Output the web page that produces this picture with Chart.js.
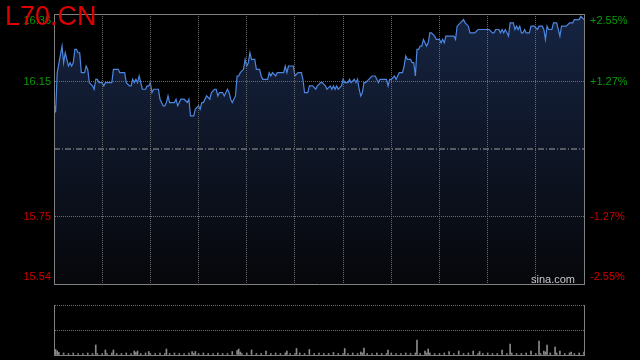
<!DOCTYPE html>
<html>
<head>
<meta charset="utf-8">
<title>L70.CN</title>
<script src="https://cdn.jsdelivr.net/npm/chart.js@4.4.1/dist/chart.umd.min.js"></script>
<style>
  html, body { margin: 0; padding: 0; background: #000; }
  #wrap { position: relative; width: 640px; height: 360px; overflow: hidden; background: #000; font-family: 'Liberation Sans', Arial, sans-serif; }
  canvas { position: absolute; left: 0; }
  #price { top: 0; }
  #volume { top: 295px; }
  .title { position: absolute; left: 5px; top: 3px; font-size: 27px; line-height: 27px; color: #e00000; white-space: nowrap; }
  .brand { position: absolute; left: 531px; top: 274px; font-size: 11px; line-height: 11px; color: #c8c8c8; }
</style>
</head>
<body>
<div id="wrap">
  <canvas id="price" width="640" height="295"></canvas>
  <canvas id="volume" width="640" height="65"></canvas>
  <div class="title">L70.CN</div>
  <div class="brand">sina.com</div>
</div>
<script>
// session in minutes, gridline every 30 min
const sessionEnd = 330;
const prevClose = 15.95;
const tickPct = [-2.55, -1.275, 1.275, 2.55];
const priceLabels = ['15.54', '15.75', '16.15', '16.36'];
const pctLabels = ['-2.55%', '-1.27%', '+1.27%', '+2.55%'];

const times = [
  0, 1, 2, 5, 6, 7, 9, 10, 11, 12,
  13, 14, 15, 16, 17, 19, 20, 21, 22, 24,
  25, 26, 27, 28, 30, 31, 32, 36, 37, 40,
  41, 44, 45, 47, 48, 49, 50, 51, 52, 53,
  54, 55, 57, 58, 59, 60, 61, 62, 65, 66,
  68, 69, 70, 71, 72, 74, 75, 76, 77, 78,
  79, 81, 83, 84, 85, 87, 88, 90, 91, 92,
  93, 95, 97, 98, 100, 101, 102, 103, 105, 106,
  108, 109, 110, 111, 113, 114, 115, 116, 118, 119,
  120, 121, 122, 123, 125, 126, 128, 129, 130, 133,
  134, 135, 136, 138, 139, 143, 144, 145, 146, 149,
  150, 152, 154, 155, 156, 158, 159, 161, 163, 164,
  166, 167, 169, 170, 172, 173, 174, 175, 176, 177,
  179, 180, 181, 183, 184, 185, 187, 188, 189, 190,
  191, 192, 193, 194, 196, 198, 200, 201, 202, 203,
  207, 208, 209, 210, 212, 213, 214, 215, 217, 218,
  219, 220, 222, 223, 224, 225, 226, 227, 228, 229,
  230, 232, 233, 234, 235, 237, 238, 240, 241, 242,
  243, 244, 246, 249, 250, 251, 253, 255, 256, 258,
  259, 261, 262, 264, 269, 271, 273, 274, 275, 277,
  278, 279, 280, 281, 282, 283, 284, 286, 287, 288,
  289, 290, 291, 292, 293, 294, 296, 297, 299, 301,
  302, 304, 305, 306, 307, 308, 310, 311, 313, 314,
  315, 316, 319, 321, 323, 324, 327, 328, 330
];
const prices = [
  16.09, 16.06, 16.18, 16.26, 16.21, 16.24, 16.20, 16.21, 16.20, 16.21,
  16.25, 16.25, 16.24, 16.24, 16.18, 16.18, 16.20, 16.19, 16.15, 16.14,
  16.13, 16.16, 16.16, 16.15, 16.15, 16.14, 16.15, 16.15, 16.19, 16.19,
  16.18, 16.18, 16.15, 16.14, 16.14, 16.16, 16.15, 16.16, 16.15, 16.17,
  16.15, 16.13, 16.13, 16.14, 16.14, 16.15, 16.12, 16.13, 16.13, 16.10,
  16.08, 16.08, 16.09, 16.11, 16.09, 16.09, 16.09, 16.10, 16.08, 16.09,
  16.10, 16.10, 16.09, 16.10, 16.05, 16.05, 16.07, 16.08, 16.07, 16.09,
  16.09, 16.11, 16.10, 16.12, 16.13, 16.13, 16.11, 16.12, 16.12, 16.11,
  16.13, 16.12, 16.10, 16.09, 16.11, 16.17, 16.17, 16.18, 16.19, 16.22,
  16.20, 16.21, 16.24, 16.22, 16.22, 16.19, 16.19, 16.17, 16.16, 16.16,
  16.18, 16.17, 16.18, 16.17, 16.18, 16.18, 16.20, 16.18, 16.20, 16.20,
  16.17, 16.18, 16.18, 16.16, 16.12, 16.12, 16.14, 16.14, 16.13, 16.14,
  16.15, 16.15, 16.14, 16.13, 16.14, 16.13, 16.14, 16.13, 16.14, 16.13,
  16.14, 16.16, 16.15, 16.15, 16.16, 16.15, 16.16, 16.15, 16.16, 16.13,
  16.11, 16.12, 16.15, 16.15, 16.16, 16.17, 16.17, 16.16, 16.15, 16.16,
  16.16, 16.14, 16.16, 16.16, 16.17, 16.16, 16.17, 16.18, 16.18, 16.20,
  16.23, 16.22, 16.22, 16.21, 16.21, 16.17, 16.25, 16.25, 16.26, 16.26,
  16.28, 16.26, 16.27, 16.30, 16.30, 16.29, 16.28, 16.28, 16.27, 16.28,
  16.27, 16.29, 16.29, 16.29, 16.28, 16.32, 16.33, 16.34, 16.33, 16.32,
  16.30, 16.30, 16.30, 16.31, 16.31, 16.31, 16.30, 16.30, 16.31, 16.31,
  16.30, 16.31, 16.30, 16.31, 16.30, 16.29, 16.33, 16.33, 16.31, 16.32,
  16.31, 16.32, 16.30, 16.30, 16.31, 16.30, 16.30, 16.32, 16.32, 16.31,
  16.32, 16.32, 16.31, 16.28, 16.32, 16.31, 16.31, 16.33, 16.33, 16.31,
  16.29, 16.32, 16.32, 16.33, 16.33, 16.34, 16.34, 16.35, 16.34
];

const volTimes = [
  0, 1, 2, 3, 6, 9, 12, 15, 18, 21, 24, 26, 27, 30, 32, 33, 36, 37, 39, 42,
  45, 48, 50, 51, 52, 54, 57, 59, 60, 63, 66, 69, 70, 72, 75, 78, 81, 84, 86, 87,
  88, 90, 93, 96, 99, 102, 105, 108, 111, 114, 115, 116, 117, 120, 123, 126, 129, 132, 135, 138,
  141, 144, 145, 147, 150, 151, 153, 156, 159, 162, 165, 168, 171, 174, 177, 180, 181, 183, 186, 189,
  191, 192, 193, 195, 198, 201, 204, 207, 208, 210, 213, 216, 219, 222, 225, 226, 228, 231, 232, 233,
  234, 237, 240, 243, 246, 249, 252, 255, 258, 261, 264, 265, 267, 270, 273, 276, 279, 282, 284, 285,
  288, 291, 294, 297, 300, 302, 303, 305, 306, 307, 309, 312, 313, 315, 318, 321, 322, 324, 327, 330
];
const volumes = [
  4, 11, 8, 5, 4, 3, 4, 3, 3, 4, 3, 20, 3, 3, 10, 3, 4, 10, 3, 3,
  4, 3, 8, 5, 8, 3, 4, 7, 3, 3, 4, 3, 12, 3, 4, 3, 3, 4, 7, 3,
  7, 3, 4, 3, 3, 4, 3, 3, 7, 9, 12, 6, 3, 4, 10, 3, 3, 8, 3, 4,
  3, 4, 8, 3, 3, 13, 4, 3, 11, 3, 4, 3, 3, 5, 3, 3, 13, 3, 4, 3,
  6, 4, 14, 3, 3, 4, 3, 3, 10, 4, 3, 3, 4, 3, 4, 30, 3, 8, 4, 12,
  4, 3, 3, 4, 7, 3, 8, 3, 4, 8, 3, 7, 3, 4, 3, 3, 10, 3, 22, 4,
  3, 3, 4, 8, 3, 28, 3, 8, 6, 20, 4, 16, 4, 8, 3, 4, 6, 3, 4, 6
];

const frameColor = '#808080';
const dotColor = '#6c6c6c';
const upColor = '#0a9a0a';
const downColor = '#d00000';

Chart.defaults.font.family = "'Liberation Sans', Arial, sans-serif";
Chart.defaults.font.size = 11;

const yMin = prevClose * (1 + tickPct[0] / 100);
const yMax = prevClose * (1 + tickPct[tickPct.length - 1] / 100);

function setTicks(scale) {
  scale.ticks = tickPct.map(p => ({ value: prevClose * (1 + p / 100) }));
}

// top label sits under the frame line, bottom label above it
function edgeLabel(text, index) {
  if (index === tickPct.length - 1) return ['', text];
  if (index === 0) return [text, ''];
  return text;
}

function fixWidth(w) {
  return scale => {
    scale.width = w;
    scale.paddingTop = 0;
    scale.paddingBottom = 0;
  };
}

function fixHeight(scale) {
  scale.height = 0;
  scale.paddingLeft = 0;
  scale.paddingRight = 0;
}

function areaFill(context) {
  const { ctx, chartArea } = context.chart;
  if (!chartArea) return '#101a2e';
  const g = ctx.createLinearGradient(0, chartArea.top, 0, chartArea.bottom);
  g.addColorStop(0, '#162442');
  g.addColorStop(1, '#06070a');
  return g;
}

new Chart(document.getElementById('price').getContext('2d'), {
  type: 'line',
  data: {
    datasets: [
      {
        label: 'prevClose',
        data: [{ x: 0, y: prevClose }, { x: sessionEnd, y: prevClose }],
        borderColor: '#a0a0a0',
        borderWidth: 1,
        borderDash: [6, 2, 1, 2],
        pointRadius: 0,
        fill: false
      },
      {
        label: 'L70.CN',
        data: times.map((t, i) => ({ x: t, y: prices[i] })),
        borderColor: '#4d86e0',
        borderWidth: 1.2,
        pointRadius: 0,
        tension: 0,
        fill: 'start',
        backgroundColor: areaFill
      }
    ]
  },
  options: {
    responsive: false,
    animation: false,
    layout: { padding: { top: 14, bottom: 11, left: 0, right: 0 } },
    plugins: {
      legend: { display: false },
      tooltip: { enabled: false }
    },
    scales: {
      x: {
        type: 'linear',
        min: 0,
        max: sessionEnd,
        afterFit: fixHeight,
        ticks: { display: false, stepSize: 30 },
        grid: {
          z: 1,
          drawTicks: false,
          color: ctx => (ctx.tick && (ctx.tick.value === 0 || ctx.tick.value === sessionEnd)) ? 'transparent' : dotColor
        },
        border: { color: frameColor, dash: [1, 1], z: 1 }
      },
      xTop: {
        type: 'linear',
        position: 'top',
        min: 0,
        max: sessionEnd,
        afterFit: fixHeight,
        ticks: { display: false },
        grid: { display: false, drawTicks: false },
        border: { color: frameColor, z: 1 }
      },
      y: {
        position: 'left',
        min: yMin,
        max: yMax,
        afterFit: fixWidth(54),
        afterBuildTicks: setTicks,
        ticks: {
          autoSkip: false,
          padding: 3,
          color: ctx => ctx.index < 2 ? downColor : upColor,
          callback: (value, index) => edgeLabel(priceLabels[index], index)
        },
        grid: {
          z: 1,
          drawTicks: false,
          color: ctx => (ctx.index === 1 || ctx.index === 2) ? dotColor : 'transparent'
        },
        border: { color: frameColor, dash: [1, 1], z: 1 }
      },
      yR: {
        position: 'right',
        min: yMin,
        max: yMax,
        afterFit: fixWidth(56),
        afterBuildTicks: setTicks,
        ticks: {
          autoSkip: false,
          padding: 6,
          color: ctx => ctx.index < 2 ? downColor : upColor,
          callback: (value, index) => edgeLabel(pctLabels[index], index)
        },
        grid: { display: false, drawTicks: false },
        border: { color: frameColor, z: 1 }
      }
    }
  }
});

new Chart(document.getElementById('volume').getContext('2d'), {
  type: 'bar',
  data: {
    datasets: [
      {
        label: 'volume',
        data: volTimes.map((t, i) => ({ x: t, y: volumes[i] })),
        backgroundColor: '#8a8a8a',
        barThickness: 1
      }
    ]
  },
  options: {
    responsive: false,
    animation: false,
    layout: { padding: { top: 10, bottom: 5, left: 0, right: 0 } },
    plugins: {
      legend: { display: false },
      tooltip: { enabled: false }
    },
    scales: {
      x: {
        type: 'linear',
        min: 0,
        max: sessionEnd,
        offset: false,
        afterFit: fixHeight,
        ticks: { display: false },
        grid: { display: false, drawTicks: false, offset: false },
        border: { color: frameColor, z: 1 }
      },
      y: {
        position: 'left',
        min: 0,
        max: 100,
        afterFit: fixWidth(54),
        ticks: { display: false, stepSize: 50 },
        grid: {
          z: 1,
          drawTicks: false,
          color: ctx => ctx.index > 0 ? dotColor : 'transparent'
        },
        border: { color: frameColor, dash: [1, 1], z: 1 }
      },
      yR: {
        position: 'right',
        min: 0,
        max: 100,
        afterFit: fixWidth(56),
        ticks: { display: false },
        grid: { display: false, drawTicks: false },
        border: { color: frameColor, z: 1 }
      }
    }
  }
});
</script>
</body>
</html>
